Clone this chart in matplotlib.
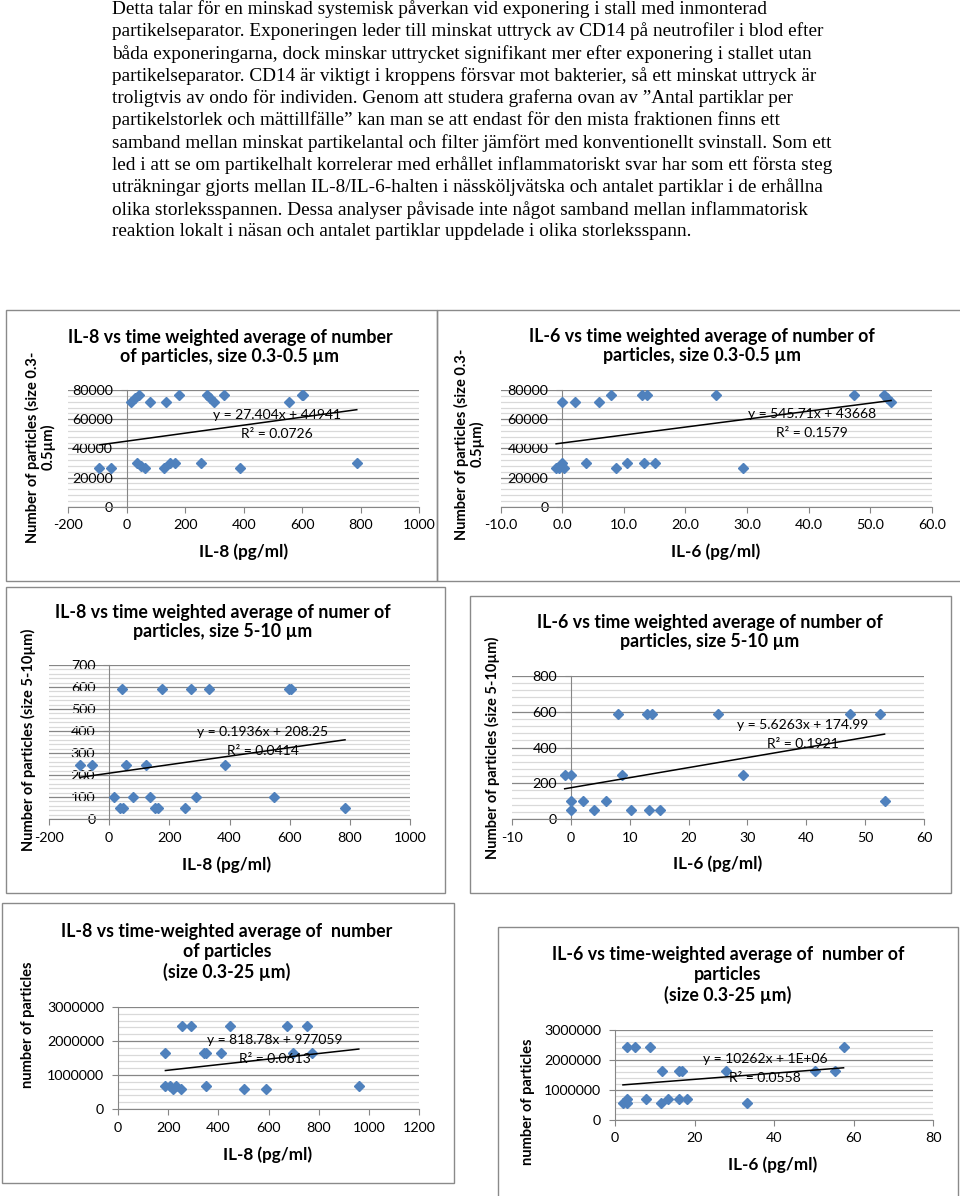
import numpy as np
import matplotlib.pyplot as plt
from matplotlib.patches import Rectangle
from matplotlib.ticker import MultipleLocator, FormatStrFormatter

# ---- text above the charts ----
para_lines = [
    "Detta talar för en minskad systemisk påverkan vid exponering i stall med inmonterad",
    "partikelseparator. Exponeringen leder till minskat uttryck av CD14 på neutrofiler i blod efter",
    "båda exponeringarna, dock minskar uttrycket signifikant mer efter exponering i stallet utan",
    "partikelseparator. CD14 är viktigt i kroppens försvar mot bakterier, så ett minskat uttryck är",
    "troligtvis av ondo för individen. Genom att studera graferna ovan av \u201dAntal partiklar per",
    "partikelstorlek och mättillfälle\u201d kan man se att endast för den mista fraktionen finns ett",
    "samband mellan minskat partikelantal och filter jämfört med konventionellt svinstall. Som ett",
    "led i att se om partikelhalt korrelerar med erhållet inflammatoriskt svar har som ett första steg",
    "uträkningar gjorts mellan IL-8/IL-6-halten i nässköljvätska och antalet partiklar i de erhållna",
    "olika storleksspannen. Dessa analyser påvisade inte något samband mellan inflammatorisk",
    "reaktion lokalt i näsan och antalet partiklar uppdelade i olika storleksspann.",
]

# ---- data ----
# IL-8 vs particles 0.3-0.5 um
il8_a = [-94, -55, 36, 49, 63, 126, 148, 166, 255, 389, 787,
         14, 28, 42, 80, 135, 177, 274, 286, 297, 334, 554, 598, 604]
n_a = [26300, 26300, 29700, 28100, 26300, 26300, 29700, 29700, 29700, 26300, 29700,
       72000, 74300, 76600, 72000, 72000, 76600, 76600, 74300, 72000, 76600, 72000, 76600, 76600]

# IL-6 vs particles 0.3-0.5 um
il6_b = [-1.0, -0.5, 0.0, 0.2, 3.9, 8.7, 10.5, 13.2, 15.1, 29.3,
         0.0, 2.1, 6.0, 7.9, 12.9, 13.8, 24.9, 47.4, 52.3, 52.8, 53.4]
n_b = [26300, 26300, 29700, 26300, 29700, 26300, 29700, 29700, 29700, 26300,
       72000, 72000, 72000, 76600, 76600, 76600, 76600, 76600, 76600, 74300, 72000]

# IL-8 vs particles 5-10 um
il8_c = [-98, -57, 15, 41, 37, 46, 57, 79, 122, 135, 152, 163, 176, 251, 271, 290,
         332, 386, 549, 598, 603, 784]
n_c = [245, 245, 102, 590, 52, 52, 245, 102, 245, 102, 52, 52, 590, 52, 590, 102,
       590, 245, 102, 590, 590, 52]

# IL-6 vs particles 5-10 um
il6_d = [-1.05, 0.1, 0.0, 0.0, 2.1, 3.9, 5.9, 8.0, 8.7, 10.3, 12.9, 13.2, 13.8, 15.1,
         25.0, 29.2, 47.4, 52.5, 53.3]
n_d = [245, 245, 102, 52, 102, 52, 102, 590, 245, 52, 590, 52, 590, 52,
       590, 245, 590, 590, 102]

# IL-8 vs particles 0.3-25 um
il8_e = [189, 189, 206, 219, 233, 250, 257, 290, 342, 352, 350, 412, 446, 502, 592,
         672, 698, 754, 772, 960]
n_e = [1640000, 690000, 690000, 580000, 690000, 580000, 2440000, 2440000, 1640000,
       1640000, 690000, 1640000, 2440000, 580000, 580000, 2440000, 1640000, 2440000,
       1640000, 690000]

# IL-6 vs particles 0.3-25 um
il6_f = [2.0, 2.9, 3.1, 2.9, 5.1, 8.9, 7.9, 11.8, 11.5, 13.4, 16.1, 16.9, 16.1, 18.2,
         27.8, 33.1, 50.3, 55.4, 57.5]
n_f = [580000, 690000, 580000, 2440000, 2440000, 2440000, 690000, 1640000, 580000,
       690000, 1640000, 1640000, 690000, 690000, 1640000, 580000, 1640000, 1640000,
       2440000]

# trendline coefficients (slope, intercept) and labels
fits = [(27.404, 44941), (545.71, 43668), (0.1936, 208.25),
        (5.6263, 174.99), (818.78, 977059), (10262, 1.15e6)]
eq_labels = [("y = 27.404x + 44941", "R\u00b2 = 0.0726"),
             ("y = 545.71x + 43668", "R\u00b2 = 0.1579"),
             ("y = 0.1936x + 208.25", "R\u00b2 = 0.0414"),
             ("y = 5.6263x + 174.99", "R\u00b2 = 0.1921"),
             ("y = 818.78x + 977059", "R\u00b2 = 0.0613"),
             ("y = 10262x + 1E+06", "R\u00b2 = 0.0558")]

titles = ["IL-8 vs time weighted average of number\nof particles, size 0.3-0.5 \u00b5m",
          "IL-6 vs time weighted average of number of\nparticles, size 0.3-0.5 \u00b5m",
          "IL-8 vs time weighted average of numer of\nparticles, size 5-10 \u00b5m",
          "IL-6 vs time weighted average of number of\nparticles, size 5-10 \u00b5m",
          "IL-8 vs time-weighted average of  number\nof particles\n(size 0.3-25 \u00b5m)",
          "IL-6 vs time-weighted average of  number of\nparticles\n(size 0.3-25 \u00b5m)"]
ylabels = ["Number of particles (size 0.3-\n0.5\u00b5m)",
           "Number of particles (size 0.3-\n0.5\u00b5m)",
           "Number of particles (size 5-10\u00b5m)",
           "Number of particles (size 5-10\u00b5m)",
           "number of particles", "number of particles"]
xlabels = ["IL-8 (pg/ml)", "IL-6 (pg/ml)", "IL-8 (pg/ml)", "IL-6 (pg/ml)",
           "IL-8 (pg/ml)", "IL-6 (pg/ml)"]

# ---- layout (pixels) ----
W, H = 960, 1196
plt.rcParams['font.family'] = ['Lato', 'DejaVu Sans']
fig = plt.figure(figsize=(W / 100, H / 100), dpi=100)
fig.patch.set_facecolor('white')


def fx(x):
    return x / W


def fy(y):
    return 1 - y / H


for i, line in enumerate(para_lines):
    fig.text(fx(112), fy(9 + i * 22.3), line, family='Liberation Serif',
             fontsize=13.9, va='center', ha='left')

panels = [
    dict(box=(6, 310, 437, 581), area=(68.4, 390, 419, 506.7), xlim=(-200, 1000), xstep=200,
         ylim=(0, 80000), ystep=20000, xfmt='%d', title=(230, 347), ylab=(40, 447),
         xlab=(244, 552), eq=(277, 415)),
    dict(box=(437, 310, 962, 581), area=(500.7, 390, 931.7, 506.7), xlim=(-10, 60), xstep=10,
         ylim=(0, 80000), ystep=20000, xfmt='%.1f', title=(702, 346), ylab=(469, 444),
         xlab=(716, 552), eq=(812, 414)),
    dict(box=(6, 587, 445, 893), area=(49, 665, 410, 819), xlim=(-200, 1000), xstep=200,
         ylim=(0, 700), ystep=100, xfmt='%d', title=(223, 622), ylab=(28, 740),
         xlab=(227, 865), eq=(263, 732)),
    dict(box=(470, 596, 951, 893), area=(512, 676, 924, 819), xlim=(-10, 60), xstep=10,
         ylim=(0, 800), ystep=200, xfmt='%d', title=(710, 632), ylab=(492, 748),
         xlab=(718, 864), eq=(803, 725)),
    dict(box=(2, 903, 454, 1183), area=(118, 1007, 419, 1109), xlim=(0, 1200), xstep=200,
         ylim=(0, 3000000), ystep=1000000, xfmt='%d', title=(227, 952), ylab=(28, 1025),
         xlab=(268, 1155), eq=(275, 1040)),
    dict(box=(498, 927, 958, 1210), area=(615, 1030, 933, 1120), xlim=(0, 80), xstep=20,
         ylim=(0, 3000000), ystep=1000000, xfmt='%d', title=(728, 975), ylab=(528, 1102),
         xlab=(773, 1165), eq=(765, 1059)),
]
xs_all = [il8_a, il6_b, il8_c, il6_d, il8_e, il6_f]
ys_all = [n_a, n_b, n_c, n_d, n_e, n_f]

grid_major = '#868686'
grid_minor = '#d9d9d9'
blue = '#4F81BD'

for k, p in enumerate(panels):
    bx0, by0, bx1, by1 = p['box']
    fig.add_artist(Rectangle((fx(bx0), fy(by1)), (bx1 - bx0) / W, (by1 - by0) / H,
                             transform=fig.transFigure, fill=False, ec='#8a8a8a', lw=1.0))
    x0, y0, x1, y1 = p['area']
    ax = fig.add_axes([fx(x0), fy(y1), (x1 - x0) / W, (y1 - y0) / H])
    ax.set_facecolor('none')
    ax.set_xlim(*p['xlim'])
    ax.set_ylim(*p['ylim'])
    ax.set_xticks(np.arange(p['xlim'][0], p['xlim'][1] + p['xstep'] / 2, p['xstep']))
    ax.yaxis.set_major_locator(MultipleLocator(p['ystep']))
    ax.yaxis.set_minor_locator(MultipleLocator(p['ystep'] / 5))
    ax.xaxis.set_major_formatter(FormatStrFormatter(p['xfmt']))
    ax.yaxis.set_major_formatter(FormatStrFormatter('%d'))
    ax.grid(which='major', axis='y', color=grid_major, lw=0.9)
    ax.grid(which='minor', axis='y', color=grid_minor, lw=0.9)
    ax.set_axisbelow(True)
    for s in ('top', 'right'):
        ax.spines[s].set_visible(False)
    ax.spines['left'].set_position(('data', 0))
    ax.spines['left'].set_color(grid_major)
    ax.spines['bottom'].set_color(grid_major)
    ax.tick_params(axis='x', direction='out', length=4, color=grid_major, pad=5,
                   labelsize=10.3)
    ax.tick_params(axis='y', which='major', direction='out', length=4, color=grid_major,
                   pad=6, labelsize=10.3)
    ax.tick_params(axis='y', which='minor', length=0)

    xs = np.array(xs_all[k], dtype=float)
    ax.plot(xs, ys_all[k], 'D', ms=5.3, color=blue, mec=blue, clip_on=False, zorder=3)
    slope, icpt = fits[k]
    xx = np.array([xs.min(), xs.max()])
    ax.plot(xx, slope * xx + icpt, color='black', lw=1.1, zorder=4)

    tx, ty = p['title']
    fig.text(fx(tx), fy(ty), titles[k], ha='center', va='center', fontsize=12.8,
             fontweight='bold', linespacing=1.18)
    lx, ly = p['ylab']
    fig.text(fx(lx), fy(ly), ylabels[k], ha='center', va='center', rotation=90,
             fontsize=10.5, fontweight='bold', multialignment='center', linespacing=1.05)
    xlx, xly = p['xlab']
    fig.text(fx(xlx), fy(xly), xlabels[k], ha='center', va='center', fontsize=12.3,
             fontweight='bold')
    ex, ey = p['eq']
    fig.text(fx(ex), fy(ey), eq_labels[k][0], ha='center', va='center', fontsize=10)
    fig.text(fx(ex), fy(ey + 19), eq_labels[k][1], ha='center', va='center', fontsize=10)

fig.savefig('out.png', dpi=100)
